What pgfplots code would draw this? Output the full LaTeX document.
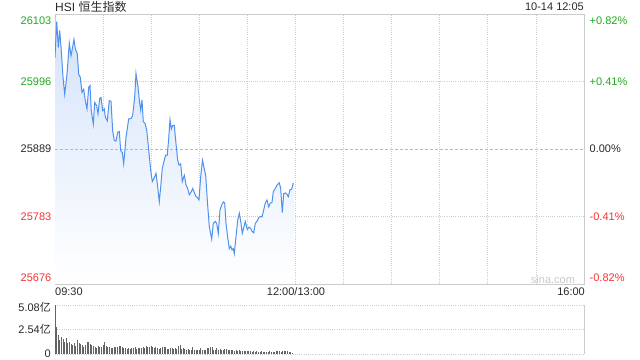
\documentclass[border=0pt]{standalone}
\usepackage{pgfplots}
\usepackage{pgfplotstable}
\pgfplotsset{compat=1.18}
\usepackage{fontspec}
\setmainfont{Liberation Sans}
\newfontfamily\cjk{Noto Sans CJK SC}
\definecolor{upg}{RGB}{30,170,30}
\definecolor{dnr}{RGB}{245,50,50}
\definecolor{txt}{RGB}{40,40,40}
\definecolor{gridc}{RGB}{204,204,204}
\definecolor{linec}{RGB}{80,145,240}
\definecolor{fillc}{RGB}{212,227,250}
\definecolor{volc}{RGB}{100,100,100}

\pgfplotstableread{
t v
0 26034
1.06 26091
2.06 26050
2.93 26077
3.93 26045
4.99 26003
6.05 25976
7.49 26008
8.92 26057
9.98 26037
10.6 26045
11.85 26063
12.66 26048
13.91 26040
14.78 26008
15.78 26003
16.84 25979
17.9 25984
18.9 25966
19.96 25953
21.02 25987
21.83 25990
22.64 25950
23.89 25929
24.77 25963
26.01 25958
26.82 25945
27.88 25969
28.69 25971
29.76 25950
30.75 25953
31.38 25940
32.62 25934
33.87 25966
34.93 25965
35.99 25918
36.99 25903
38.05 25902
39.11 25916
40.11 25917
40.98 25887
41.98 25884
42.85 25866
44.29 25908
45.97 25937
47.6 25938
48.47 25943
49.72 25972
50.53 26009
51.78 25988
52.59 25967
53.46 25951
54.27 25967
55.08 25933
56.14 25930
57.2 25920
58.45 25888
59.7 25856
60.7 25838
61.76 25843
63.0 25851
63.81 25835
65.06 25806
66.12 25835
66.93 25859
68.18 25872
69.06 25880
70.05 25880
70.93 25906
71.74 25936
72.55 25921
73.42 25927
74.42 25927
75.48 25898
76.54 25872
77.35 25864
78.41 25866
79.41 25838
80.66 25848
81.72 25833
82.78 25827
83.78 25817
85.02 25822
85.9 25827
86.71 25822
87.77 25815
88.77 25813
89.83 25809
90.89 25846
92.0 25872
93.13 25858
94.0 25848
95.0 25809
96.25 25767
97.75 25747
98.75 25772
100.0 25775
100.87 25772
101.87 25756
102.93 25793
103.99 25801
104.99 25806
105.86 25804
106.67 25772
107.92 25746
108.73 25732
109.6 25736
110.41 25730
111.22 25732
111.85 25724
112.91 25751
113.97 25777
114.97 25788
115.84 25775
116.84 25756
117.9 25767
118.71 25775
119.96 25762
121.02 25766
122.08 25764
123.08 25759
123.95 25757
124.95 25772
126.01 25775
127.07 25781
128.32 25783
129.13 25782
130.19 25793
131.19 25804
132.25 25809
133.31 25798
134.31 25804
135.37 25805
136.18 25822
137.42 25827
138.67 25833
139.92 25836
140.79 25827
141.79 25789
142.66 25819
143.66 25820
144.72 25818
145.53 25814
146.59 25825
147.65 25826
148.65 25836
}\hsi

\pgfplotstableread{
t v
0 5.08
1 2.77
2 1.97
3 1.45
4 1.73
5 1.52
6 1.28
7 1.62
8 1.17
9 1.28
10 1.04
11 0.93
12 1.17
13 0.83
14 1.45
15 1.11
16 1.00
17 0.93
18 0.69
19 0.93
20 1.28
21 1.28
22 1.04
23 0.93
24 0.83
25 0.76
26 0.59
27 0.83
28 0.76
29 0.76
30 0.93
31 1.24
32 0.83
33 0.69
34 0.76
35 0.59
36 0.66
37 0.76
38 0.69
39 0.76
40 0.83
41 0.83
42 0.69
43 0.59
44 0.59
45 0.55
46 0.62
47 0.55
48 0.62
49 0.59
50 0.69
51 0.48
52 0.66
53 0.66
54 0.59
55 0.76
56 0.66
57 0.83
58 0.69
59 0.76
60 0.83
61 0.76
62 0.66
63 0.76
64 0.59
65 0.52
66 0.59
67 0.69
68 0.76
69 0.69
70 0.55
71 0.48
72 0.59
73 0.62
74 0.55
75 0.62
76 0.52
77 0.79
78 0.97
79 0.52
80 0.62
81 0.52
82 0.45
83 0.52
84 0.45
85 0.45
86 0.69
87 0.45
88 0.45
89 0.45
90 0.38
91 0.59
92 0.45
93 0.38
94 0.45
95 0.59
96 0.62
97 0.73
98 0.73
99 0.45
100 0.45
101 0.59
102 0.45
103 0.52
104 0.45
105 0.45
106 0.52
107 0.52
108 0.45
109 0.45
110 0.45
111 0.45
112 0.35
113 0.38
114 0.35
115 0.45
116 0.31
117 0.35
118 0.31
119 0.28
120 0.31
121 0.28
122 0.28
123 0.24
124 0.28
125 0.24
126 0.35
127 0.24
128 0.21
129 0.28
130 0.24
131 0.21
132 0.24
133 0.21
134 0.28
135 0.21
136 0.24
137 0.21
138 0.28
139 0.28
140 0.28
141 0.24
142 0.28
143 0.35
144 0.28
145 0.28
146 0.24
147 0.17
148 0.10
}\vol

\begin{document}
\begin{tikzpicture}[font=\fontsize{11bp}{13bp}\selectfont]
\useasboundingbox (0bp,0bp) rectangle (640bp,360bp);
% main price panel
\begin{axis}[
  at={(55bp,76bp)}, anchor=south west,
  width=529bp, height=270bp, scale only axis,
  xmin=0, xmax=330, ymin=25676, ymax=26103,
  scaled x ticks=false, scaled y ticks=false,
  axis line style={draw=gridc, line width=0.8bp},
  xtick={30,60,...,300}, ytick={25783,25996},
  xticklabels={}, yticklabels={},
  major tick length=0,
  grid=major,
  major grid style={draw=gridc, line width=0.8bp, dash pattern=on 1bp off 1.2bp},
]
\addplot[draw=none, top color=fillc, bottom color=white] table[x=t, y=v] {\hsi}
  -- (axis cs:148.65,25676) -- (axis cs:0,25676) -- cycle;
\draw[draw={rgb,255:red,185;green,185;blue,185}, line width=0.8bp, dash pattern=on 3bp off 2bp]
  (axis cs:0,25889) -- (axis cs:330,25889);
\addplot[linec, line width=1bp, no marks] table[x=t, y=v] {\hsi};
\end{axis}
% volume panel
\begin{axis}[
  at={(55bp,6bp)}, anchor=south west,
  width=529bp, height=49bp, scale only axis,
  xmin=0, xmax=330, ymin=0, ymax=5.08,
  scaled x ticks=false, scaled y ticks=false,
  axis line style={draw=none},
  xtick=\empty, ytick={0,2.54,5.08}, yticklabels={},
  major tick length=0,
  ymajorgrids,
  major grid style={draw=gridc, line width=0.8bp, dash pattern=on 1bp off 1.2bp},
  clip=false,
]
\draw[gridc, line width=0.8bp] (axis cs:330,0) -- (axis cs:330,5.08);
\addplot[ycomb, volc, line width=1bp, no marks] table[x=t, y=v] {\vol};
\end{axis}
% left labels
\node[anchor=east, text=upg, inner sep=0] at (51.5bp,339bp) {26103};
\node[anchor=east, text=upg, inner sep=0] at (51.5bp,278bp) {25996};
\node[anchor=east, text=txt, inner sep=0] at (51.5bp,211bp) {25889};
\node[anchor=east, text=dnr, inner sep=0] at (51.5bp,143bp) {25783};
\node[anchor=east, text=dnr, inner sep=0] at (51.5bp,82bp) {25676};
% right labels
\node[anchor=west, text=upg, inner sep=0] at (589.5bp,339bp) {+0.82\%};
\node[anchor=west, text=upg, inner sep=0] at (589.5bp,278bp) {+0.41\%};
\node[anchor=west, text=txt, inner sep=0] at (589.5bp,211bp) {0.00\%};
\node[anchor=west, text=dnr, inner sep=0] at (589.5bp,143bp) {-0.41\%};
\node[anchor=west, text=dnr, inner sep=0] at (589.5bp,82bp) {-0.82\%};
% title and time
\node[anchor=base west, text=txt, inner sep=0, font=\fontsize{12bp}{14bp}\selectfont] at (55bp,348bp) {HSI {\cjk 恒生指数}};
\node[anchor=base east, text=txt, inner sep=0] at (584bp,349bp) {10-14 12:05};
% time axis labels
\node[anchor=base west, text=txt, inner sep=0] at (55bp,64bp) {09:30};
\node[anchor=base, text=txt, inner sep=0] at (296bp,64bp) {12:00/13:00};
\node[anchor=base east, text=txt, inner sep=0] at (585bp,64bp) {16:00};
% volume labels
\node[anchor=east, text=txt, inner sep=0] at (51bp,53bp) {5.08{\cjk 亿}};
\node[anchor=east, text=txt, inner sep=0] at (51bp,31bp) {2.54{\cjk 亿}};
\node[anchor=east, text=txt, inner sep=0] at (51bp,6bp) {0};
% watermark
\node[anchor=center, text={rgb,255:red,200;green,200;blue,200}, inner sep=0] at (553bp,80bp) {sina.com};
\end{tikzpicture}
\end{document}
